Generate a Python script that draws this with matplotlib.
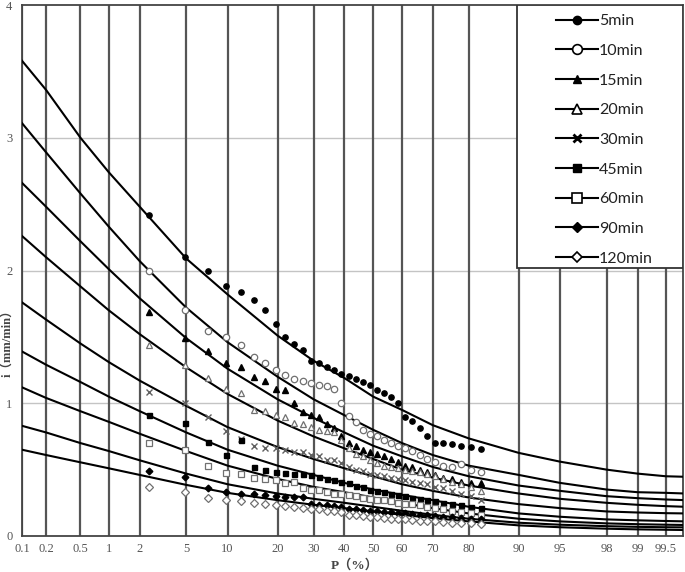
import math
import numpy as np
import matplotlib
matplotlib.use("Agg")
import matplotlib.pyplot as plt
from matplotlib.lines import Line2D
from matplotlib.patches import Rectangle

# ---------------- data ----------------
# empirical exceedance frequencies of the samples (%)
p_points = [2.44, 4.88, 7.32, 9.76, 12.20, 14.63, 17.07, 19.51, 21.95, 24.39,
            26.83, 29.27, 31.71, 34.15, 36.59, 39.02, 41.46, 43.90, 46.34, 48.78,
            51.22, 53.66, 56.10, 58.54, 60.98, 63.41, 65.85, 68.29, 70.73, 73.17,
            75.61, 78.05, 80.49, 82.93]

i_5 = [2.42, 2.10, 2.00, 1.885, 1.84, 1.78, 1.70, 1.60, 1.50, 1.45, 1.40, 1.32,
       1.30, 1.27, 1.25, 1.22, 1.205, 1.18, 1.16, 1.135, 1.10, 1.08, 1.05, 1.00,
       0.90, 0.87, 0.81, 0.75, 0.70, 0.70, 0.69, 0.68, 0.667, 0.654]
i_10 = [2.00, 1.70, 1.545, 1.50, 1.44, 1.35, 1.30, 1.25, 1.215, 1.18, 1.17, 1.155,
        1.14, 1.13, 1.11, 1.00, 0.905, 0.86, 0.80, 0.77, 0.75, 0.72, 0.70, 0.68,
        0.66, 0.64, 0.61, 0.58, 0.56, 0.53, 0.52, 0.54, 0.50, 0.48]
i_15 = [1.69, 1.49, 1.39, 1.30, 1.27, 1.20, 1.17, 1.11, 1.10, 1.00, 0.935, 0.91,
        0.90, 0.84, 0.81, 0.75, 0.70, 0.68, 0.65, 0.63, 0.62, 0.60, 0.58, 0.56,
        0.53, 0.52, 0.50, 0.48, 0.46, 0.44, 0.43, 0.41, 0.40, 0.40]
i_20 = [1.44, 1.285, 1.19, 1.11, 1.08, 0.95, 0.94, 0.91, 0.90, 0.85, 0.84, 0.82,
        0.80, 0.79, 0.78, 0.72, 0.66, 0.62, 0.60, 0.57, 0.55, 0.53, 0.52, 0.51,
        0.50, 0.49, 0.48, 0.47, 0.45, 0.43, 0.41, 0.39, 0.37, 0.34]
i_30 = [1.085, 1.00, 0.90, 0.79, 0.73, 0.68, 0.66, 0.66, 0.65, 0.63, 0.63, 0.61,
        0.60, 0.57, 0.57, 0.55, 0.52, 0.50, 0.49, 0.47, 0.46, 0.45, 0.44, 0.43,
        0.42, 0.41, 0.40, 0.39, 0.37, 0.36, 0.34, 0.32, 0.30, 0.27]
i_45 = [0.91, 0.85, 0.71, 0.61, 0.72, 0.52, 0.50, 0.48, 0.475, 0.47, 0.47, 0.46,
        0.445, 0.43, 0.42, 0.41, 0.40, 0.38, 0.37, 0.35, 0.34, 0.33, 0.32, 0.31,
        0.30, 0.29, 0.28, 0.27, 0.26, 0.25, 0.24, 0.23, 0.22, 0.21]
i_60 = [0.70, 0.65, 0.53, 0.475, 0.47, 0.44, 0.43, 0.42, 0.40, 0.41, 0.36, 0.35,
        0.345, 0.33, 0.32, 0.32, 0.31, 0.30, 0.29, 0.28, 0.27, 0.27, 0.26, 0.25,
        0.24, 0.24, 0.23, 0.22, 0.21, 0.20, 0.19, 0.18, 0.17, 0.16]
i_90 = [0.49, 0.446, 0.36, 0.33, 0.32, 0.32, 0.31, 0.30, 0.295, 0.295, 0.295, 0.24,
        0.233, 0.233, 0.228, 0.22, 0.20, 0.20, 0.195, 0.19, 0.185, 0.18, 0.18, 0.175,
        0.17, 0.165, 0.16, 0.155, 0.15, 0.145, 0.14, 0.135, 0.13, 0.13]
i_120 = [0.37, 0.333, 0.283, 0.27, 0.263, 0.246, 0.24, 0.233, 0.225, 0.22, 0.21, 0.205,
         0.20, 0.19, 0.185, 0.18, 0.16, 0.155, 0.15, 0.145, 0.14, 0.135, 0.13, 0.13,
         0.125, 0.12, 0.115, 0.11, 0.11, 0.105, 0.10, 0.10, 0.095, 0.09]

# fitted frequency curves, read at the grid frequencies
p_curve = [0.1, 0.2, 0.5, 1, 2, 5, 10, 20, 30, 40, 50, 60, 70, 80, 90, 95, 98, 99, 99.5, 99.7]
c_5 = [3.58, 3.36, 3.00, 2.74, 2.48, 2.09, 1.82, 1.51, 1.32, 1.19, 1.05, 0.95, 0.835,
       0.735, 0.626, 0.56, 0.50, 0.47, 0.45, 0.446]
c_10 = [3.11, 2.89, 2.58, 2.33, 2.07, 1.72, 1.46, 1.20, 1.03, 0.91, 0.80, 0.70, 0.61,
        0.53, 0.46, 0.40, 0.35, 0.33, 0.325, 0.32]
c_15 = [2.66, 2.48, 2.22, 2.01, 1.79, 1.49, 1.26, 1.03, 0.89, 0.78, 0.68, 0.60, 0.52,
        0.45, 0.38, 0.34, 0.30, 0.285, 0.275, 0.27]
c_20 = [2.26, 2.10, 1.88, 1.70, 1.52, 1.27, 1.07, 0.87, 0.75, 0.66, 0.58, 0.50, 0.44,
        0.38, 0.32, 0.28, 0.25, 0.235, 0.225, 0.22]
c_30 = [1.76, 1.63, 1.45, 1.31, 1.17, 0.98, 0.82, 0.67, 0.58, 0.51, 0.45, 0.39, 0.34,
        0.29, 0.24, 0.21, 0.185, 0.177, 0.172, 0.17]
c_45 = [1.39, 1.29, 1.16, 1.05, 0.94, 0.78, 0.65, 0.53, 0.46, 0.40, 0.35, 0.31, 0.27,
        0.22, 0.17, 0.145, 0.125, 0.118, 0.113, 0.11]
c_60 = [1.12, 1.04, 0.94, 0.86, 0.77, 0.64, 0.53, 0.43, 0.37, 0.33, 0.29, 0.25, 0.21,
        0.17, 0.13, 0.11, 0.095, 0.089, 0.085, 0.083]
c_90 = [0.83, 0.78, 0.70, 0.64, 0.57, 0.47, 0.39, 0.32, 0.28, 0.25, 0.22, 0.19, 0.16,
        0.13, 0.10, 0.085, 0.074, 0.069, 0.066, 0.065]
c_120 = [0.65, 0.61, 0.555, 0.51, 0.46, 0.385, 0.325, 0.27, 0.235, 0.21, 0.185, 0.16,
         0.135, 0.11, 0.08, 0.066, 0.055, 0.05, 0.047, 0.045]

labels = ["5min", "10min", "15min", "20min", "30min", "45min", "60min", "90min", "120min"]
x_ticks = [0.1, 0.2, 0.5, 1, 2, 5, 10, 20, 30, 40, 50, 60, 70, 80, 90, 95, 98, 99, 99.5]
x_ticklabels = ["0.1", "0.2", "0.5", "1", "2", "5", "10", "20", "30", "40", "50", "60",
                "70", "80", "90", "95", "98", "99", "99.5"]
y_ticks = [0, 1, 2, 3, 4]

# ---------------- normal probability scale ----------------
def _ppf_scalar(p):
    # Acklam's rational approximation of the inverse normal CDF
    a = [-3.969683028665376e+01, 2.209460984245205e+02, -2.759285104469687e+02,
         1.383577518672690e+02, -3.066479806614716e+01, 2.506628277459239e+00]
    b = [-5.447609879822406e+01, 1.615858368580409e+02, -1.556989798598866e+02,
         6.680131188771972e+01, -1.328068155288572e+01]
    c = [-7.784894002430293e-03, -3.223964580411365e-01, -2.400758277161838e+00,
         -2.549671010283480e+00, 4.374664141464968e+00, 2.938163982698783e+00]
    d = [7.784695709041462e-03, 3.224671290700398e-01, 2.445134137142996e+00,
         3.754408661907416e+00]
    p = min(max(p, 1e-9), 1 - 1e-9)
    pl = 0.02425
    if p < pl:
        q = math.sqrt(-2 * math.log(p))
        return (((((c[0]*q+c[1])*q+c[2])*q+c[3])*q+c[4])*q+c[5]) / \
               ((((d[0]*q+d[1])*q+d[2])*q+d[3])*q+1)
    if p > 1 - pl:
        q = math.sqrt(-2 * math.log(1 - p))
        return -(((((c[0]*q+c[1])*q+c[2])*q+c[3])*q+c[4])*q+c[5]) / \
                ((((d[0]*q+d[1])*q+d[2])*q+d[3])*q+1)
    q = p - 0.5
    r = q * q
    return (((((a[0]*r+a[1])*r+a[2])*r+a[3])*r+a[4])*r+a[5])*q / \
           (((((b[0]*r+b[1])*r+b[2])*r+b[3])*r+b[4])*r+1)


def fwd(pct):
    arr = np.asarray(pct, dtype=float)
    out = np.array([_ppf_scalar(v / 100.0) for v in arr.ravel()])
    return out.reshape(arr.shape)


def inv(z):
    arr = np.asarray(z, dtype=float)
    out = np.array([50.0 * (1 + math.erf(v / math.sqrt(2))) for v in arr.ravel()])
    return out.reshape(arr.shape)


# ---------------- figure ----------------
fig = plt.figure(figsize=(6.85, 5.72), dpi=100)
ax = fig.add_axes([22 / 685, 36 / 572, 661 / 685, 531 / 572])
ax.set_xscale("function", functions=(fwd, inv))
ax.set_xlim(0.1, 99.68)
ax.set_ylim(0, 4)

grid_col = "#555555"
for t in x_ticks:
    ax.axvline(t, color=grid_col, lw=1.6, zorder=1)
for yv in [1, 2, 3]:
    ax.axhline(yv, color="#c4c4c4", lw=1.0, zorder=0.5)

ax.set_xticks(x_ticks)
ax.set_xticklabels(x_ticklabels)
ax.set_yticks(y_ticks)
ax.tick_params(length=0, labelsize=9, labelcolor="#555555")
ax.tick_params(axis="x", pad=5)
ax.tick_params(axis="y", pad=7)
for lab in ax.get_xticklabels() + ax.get_yticklabels():
    lab.set_family(["Liberation Serif", "Noto Sans CJK SC"])
ax.xaxis.set_minor_locator(matplotlib.ticker.NullLocator())
for s in ax.spines.values():
    s.set_color("#444444")
    s.set_linewidth(1.3)

curves = [c_5, c_10, c_15, c_20, c_30, c_45, c_60, c_90, c_120]
for c in curves:
    ax.plot(p_curve, c, color="black", lw=1.5, zorder=3)

series = [i_5, i_10, i_15, i_20, i_30, i_45, i_60, i_90, i_120]
styles = [
    dict(marker="o", ms=3.8, mfc="black", mec="black"),
    dict(marker="o", ms=4.6, mfc="white", mec="#707070", mew=0.9),
    dict(marker="^", ms=4.2, mfc="black", mec="black"),
    dict(marker="^", ms=4.6, mfc="white", mec="#707070", mew=0.9),
    dict(marker="x", ms=4.2, mec="#606060", mew=1.0),
    dict(marker="s", ms=3.6, mfc="black", mec="black"),
    dict(marker="s", ms=4.2, mfc="white", mec="#707070", mew=0.9),
    dict(marker="D", ms=3.4, mfc="black", mec="black"),
    dict(marker="D", ms=3.8, mfc="white", mec="#707070", mew=0.9),
]
for vals, st in zip(series, styles):
    ax.plot(p_points, vals, ls="none", zorder=4, **st)

# legend frame
ax.add_patch(Rectangle(((517 - 22) / 661, (536 - 268) / 531), 1 - (517 - 22) / 661,
                       1 - (536 - 268) / 531, transform=ax.transAxes,
                       facecolor="white", edgecolor="#333333", lw=1.3, zorder=6))
handles = []
leg_styles = [
    dict(marker="o", ms=6, mfc="black", mec="black"),
    dict(marker="o", ms=7, mfc="white", mec="black", mew=1.2),
    dict(marker="^", ms=6, mfc="black", mec="black"),
    dict(marker="^", ms=7, mfc="white", mec="black", mew=1.2),
    dict(marker="x", ms=6, mec="black", mew=2),
    dict(marker="s", ms=6, mfc="black", mec="black"),
    dict(marker="s", ms=7, mfc="white", mec="black", mew=1.2),
    dict(marker="D", ms=5, mfc="black", mec="black"),
    dict(marker="D", ms=5.5, mfc="white", mec="black", mew=1.2),
]
for st in leg_styles:
    handles.append(Line2D([], [], color="black", lw=1.5, **st))
leg = ax.legend(handles, labels, loc="upper left",
                bbox_to_anchor=((548 - 22) / 661, 1 - 1 / 531),
                frameon=False, handlelength=2.6, handletextpad=0.1,
                labelspacing=0.97, borderpad=0.0, prop={"family": "Lato", "size": 11.5})
leg.set_zorder(7)
for t in leg.get_texts():
    t.set_color("#222222")

fam = ["Liberation Serif", "Noto Sans CJK SC"]
fig.text(355 / 685, 1 - 565 / 572, "P（%）", ha="center", va="center",
         fontsize=9.5, fontweight="bold", family=fam, color="#444444")
fig.text(8 / 685, 1 - 340 / 572, "i（mm/min）", ha="center", va="center",
         rotation=90, fontsize=9, fontweight="bold", family=fam, color="#444444")

fig.savefig("out.png", dpi=100)
